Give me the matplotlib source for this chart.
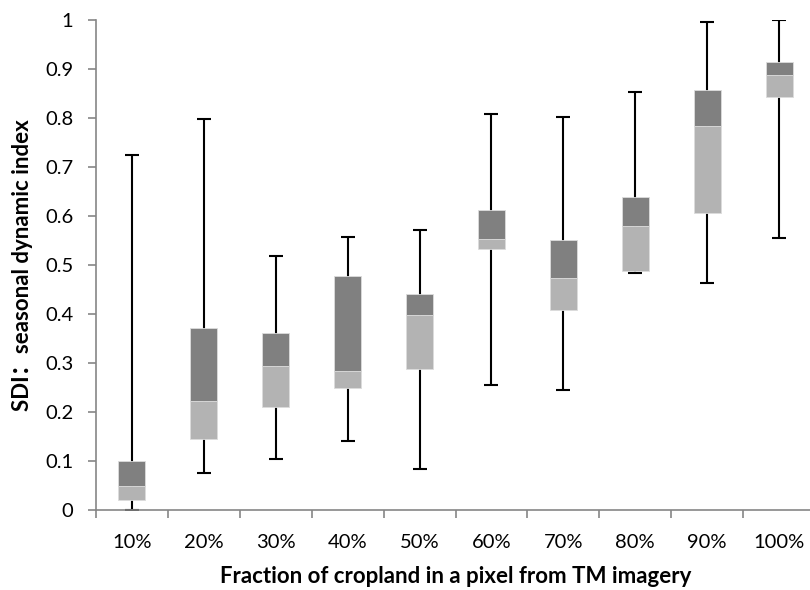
import numpy as np
import matplotlib.pyplot as plt

# Дані: категорії та статистики (мін, Q1, медіана, Q3, макс)
categories = ['10%', '20%', '30%', '40%', '50%', '60%', '70%', '80%', '90%', '100%']
mins = [0.0, 0.076, 0.104, 0.141, 0.083, 0.255, 0.244, 0.483, 0.463, 0.556]
q1 = [0.021, 0.144, 0.211, 0.250, 0.288, 0.532, 0.408, 0.488, 0.607, 0.843]
medians = [0.048, 0.223, 0.293, 0.284, 0.398, 0.553, 0.473, 0.580, 0.784, 0.888]
q3 = [0.099, 0.371, 0.361, 0.478, 0.440, 0.613, 0.551, 0.639, 0.857, 0.914]
maxs = [0.724, 0.797, 0.518, 0.558, 0.572, 0.808, 0.803, 0.854, 0.995, 0.999]

xlabel = 'Fraction of cropland in a pixel from TM imagery'
ylabel = 'SDI：seasonal dynamic index'

plt.rcParams['font.family'] = ['Lato', 'Noto Sans CJK SC', 'DejaVu Sans']

x = np.arange(1, len(categories) + 1)
mins, q1, medians, q3, maxs = map(np.array, (mins, q1, medians, q3, maxs))

fig = plt.figure(figsize=(8.1, 5.9), dpi=100)
renderer = fig.canvas.get_renderer()


def fit_size(text, target_px, weight='normal'):
    # підбір розміру шрифту під ширину тексту в пікселях
    t = fig.text(0, 0, text, fontsize=10, fontweight=weight)
    w = t.get_window_extent(renderer=renderer).width
    t.remove()
    return 10 * target_px / w


tick_fs = fit_size('100%', 51)
xlab_fs = fit_size(xlabel, 472, 'bold')
ylab_fs = fit_size(ylabel, 293, 'bold')

ax = fig.add_axes([96 / 810, (590 - 510) / 590, 719 / 810, 490 / 590])

# Вуса
ax.errorbar(x, medians, yerr=[medians - mins, maxs - medians], fmt='none',
            ecolor='black', elinewidth=1.5, capsize=5.3, capthick=1.5, zorder=1)

# Коробки: нижня частина світла, верхня темна
w = 0.376
ax.bar(x, medians - q1, bottom=q1, width=w, color='#b3b3b3',
       edgecolor='#dcdcdc', linewidth=0.6, zorder=2)
ax.bar(x, q3 - medians, bottom=medians, width=w, color='#808080',
       edgecolor='#dcdcdc', linewidth=0.6, zorder=2)

ax.set_xlim(0.5, 10.5)
ax.set_ylim(0, 1)
ax.set_yticks(np.arange(0, 1.01, 0.1))
ax.set_yticklabels(['0'] + ['%.1f' % v for v in np.arange(0.1, 0.95, 0.1)] + ['1'])
ax.set_xticks(x)
ax.set_xticklabels(categories)
ax.set_xticks(np.arange(0.5, 10.6, 1), minor=True)

for s in ['top', 'right']:
    ax.spines[s].set_visible(False)
for s in ['left', 'bottom']:
    ax.spines[s].set_color('#868686')
    ax.spines[s].set_linewidth(1.2)

ax.tick_params(axis='y', direction='out', length=5.8, width=1.2, color='#868686',
               labelsize=tick_fs, pad=10.5)
ax.tick_params(axis='x', which='major', length=0, labelsize=tick_fs, pad=17)
ax.tick_params(axis='x', which='minor', direction='out', length=5.5, width=1.2,
               color='#868686')

ax.set_xlabel(xlabel, fontsize=xlab_fs, fontweight='bold', va='top')
ax.xaxis.set_label_coords(0.5, (510 - 566) / 490)
ax.set_ylabel(ylabel, fontsize=ylab_fs, fontweight='bold', va='center')
ax.yaxis.set_label_coords((23 - 96) / 719, 0.5)

fig.savefig('out.png', dpi=100)
